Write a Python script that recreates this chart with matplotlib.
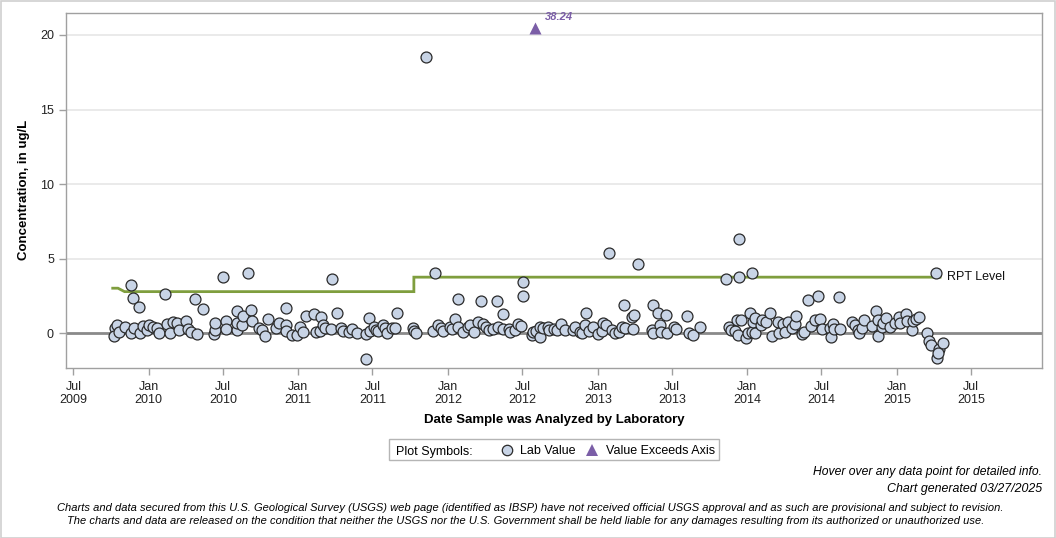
import matplotlib
matplotlib.use("Agg")
import matplotlib.pyplot as plt
from matplotlib.lines import Line2D
from matplotlib.patches import Rectangle
from datetime import datetime

# ---------------- data (decimal year of analysis, concentration ug/L) ----------------
sample_years = [
    2009.774, 2009.767, 2009.787, 2009.801, 2009.841, 2009.881, 2009.881, 2009.894, 2009.901, 2009.934,
    2009.941, 2009.961, 2009.988, 2010.001, 2010.028, 2010.055, 2010.068, 2010.108, 2010.122, 2010.142,
    2010.162, 2010.188, 2010.202, 2010.249, 2010.262, 2010.282, 2010.309, 2010.322, 2010.362, 2010.436,
    2010.442, 2010.442, 2010.496, 2010.516, 2010.516, 2010.589, 2010.589, 2010.589, 2010.623, 2010.630,
    2010.663, 2010.683, 2010.690, 2010.737, 2010.757, 2010.777, 2010.797, 2010.850, 2010.870,
    2010.917, 2010.917, 2010.917, 2010.957, 2010.991, 2011.011, 2011.031, 2011.051, 2011.104, 2011.118,
    2011.144, 2011.151, 2011.164, 2011.178, 2011.225, 2011.218, 2011.258, 2011.285, 2011.298, 2011.338,
    2011.358, 2011.392, 2011.452, 2011.452, 2011.472, 2011.478, 2011.505, 2011.519, 2011.532, 2011.565,
    2011.579, 2011.592, 2011.626, 2011.646, 2011.659, 2011.766, 2011.773, 2011.786, 2011.853, 2011.913,
    2011.900, 2011.933, 2011.953, 2011.966,
    2012.013, 2012.027, 2012.047, 2012.067, 2012.067, 2012.100, 2012.134, 2012.147, 2012.174, 2012.200,
    2012.220, 2012.234, 2012.254, 2012.274, 2012.301, 2012.327, 2012.334, 2012.368, 2012.368, 2012.408,
    2012.414, 2012.448, 2012.468, 2012.488, 2012.501, 2012.501, 2012.561, 2012.568, 2012.588, 2012.615,
    2012.615, 2012.635, 2012.668, 2012.675, 2012.708, 2012.728, 2012.755, 2012.782, 2012.835,
    2012.849, 2012.882, 2012.896, 2012.922, 2012.916, 2012.942, 2012.969, 2013.002, 2013.029, 2013.036,
    2013.056, 2013.076, 2013.096, 2013.116, 2013.143, 2013.163, 2013.176, 2013.183, 2013.230, 2013.243,
    2013.236, 2013.270, 2013.363, 2013.370, 2013.370, 2013.403, 2013.417, 2013.424, 2013.457, 2013.464,
    2013.510, 2013.524, 2013.597, 2013.611, 2013.637, 2013.684,
    2013.858, 2013.878, 2013.891, 2013.918, 2013.932, 2013.938, 2013.945, 2013.945, 2013.958, 2013.992,
    2014.005, 2014.019, 2014.032, 2014.032, 2014.039, 2014.052, 2014.052, 2014.092, 2014.099, 2014.126,
    2014.152, 2014.166, 2014.206, 2014.212, 2014.239, 2014.252, 2014.272, 2014.299, 2014.319, 2014.326,
    2014.366, 2014.380, 2014.406, 2014.426, 2014.453, 2014.473, 2014.486, 2014.500, 2014.553, 2014.560,
    2014.573, 2014.580, 2014.613, 2014.620,
    2014.700, 2014.720, 2014.740, 2014.747, 2014.767, 2014.780, 2014.833, 2014.860, 2014.874, 2014.874,
    2014.901, 2014.907, 2014.927, 2014.954, 2014.988, 2015.014, 2015.021, 2015.061, 2015.068, 2015.101,
    2015.108, 2015.128, 2015.148, 2015.202, 2015.215, 2015.228, 2015.282, 2015.309, 2015.269, 2015.275,
    2015.262,
]
sample_values = [
    0.36, -0.18, 0.56, 0.09, 0.42, 3.24, 0.02, 2.37, 0.36, 1.76,
    0.02, 0.49, 0.22, 0.56, 0.42, 0.36, 0.02, 2.63, 0.62, 0.02,
    0.76, 0.69, 0.22, 0.82, 0.29, 0.09, 2.30, -0.05, 1.63, -0.05,
    0.22, 0.69, 3.78, 0.82, 0.29, 0.22, 0.69, 1.49, 0.56, 1.16,
    4.04, 1.56, 0.82, 0.36, 0.22, -0.18, 0.96, 0.36, 0.69,
    1.70, 0.56, 0.15, -0.11, -0.11, 0.42, 0.09, 1.16, 1.29, 0.09,
    0.15, 1.09, 0.56, 0.36, 3.64, 0.29, 1.36, 0.36, 0.15, 0.09,
    0.29, 0.02, -0.05, -1.72, 1.03, 0.15, 0.42, 0.22, 0.15, 0.56,
    0.36, 0.02, 0.36, 0.36, 1.36, 0.36, 0.15, 0.02, 18.52, 4.04,
    0.15, 0.56, 0.36, 0.15,
    0.42, 0.29, 0.96, 2.30, 0.42, 0.09, 0.42, 0.56, 0.09, 0.76,
    2.16, 0.62, 0.42, 0.22, 0.29, 2.16, 0.42, 1.29, 0.29, 0.29,
    0.09, 0.22, 0.62, 0.49, 3.44, 2.50, -0.11, 0.09, 0.15, -0.25,
    0.42, 0.36, 0.42, 0.22, 0.29, 0.22, 0.62, 0.22, 0.22,
    0.42, 0.09, 0.02, 1.36, 0.56, 0.15, 0.42, -0.05, 0.15, 0.69,
    0.56, 5.38, 0.22, 0.02, 0.09, 0.42, 1.90, 0.36, 1.09, 1.23,
    0.29, 4.64, 0.22, 1.90, 0.02, 1.36, 0.56, 0.09, 1.23, 0.02,
    0.42, 0.29, 1.16, 0.02, -0.11, 0.42,
    3.64, 0.42, 0.22, 0.15, 0.89, -0.11, 6.32, 3.78, 0.89, -0.32,
    0.02, 1.36, 4.04, 0.09, 0.76, 1.03, 0.02, 0.56, 0.89, 0.76,
    1.36, -0.18, 0.76, 0.02, 0.62, 0.09, 0.76, 0.36, 0.62, 1.16,
    -0.05, 0.09, 2.23, 0.49, 0.89, 2.50, 0.96, 0.29, 0.36, -0.25,
    0.62, 0.29, 2.43, 0.29,
    0.76, 0.56, 0.22, 0.02, 0.36, 0.89, 0.49, 1.49, 0.89, -0.18,
    0.42, 0.69, 1.03, 0.42, 0.69, 1.09, 0.69, 1.29, 0.82, 0.22,
    0.82, 0.96, 1.09, 0.02, -0.52, -0.78, -1.05, -0.65, -1.65, -1.32,
    4.04,
]

# value above the axis maximum
exceed_years = [2012.581]
exceed_values = [38.24]
exceed_plot_value = 20.45  # drawn at the top of the axis

# reporting level line
rpt_years = [2009.759, 2009.794, 2009.838, 2011.773, 2011.773, 2015.289]
rpt_values = [3.02, 3.02, 2.79, 2.79, 3.76, 3.76]

x_ticks = ["2009-07-01", "2010-01-01", "2010-07-01", "2011-01-01", "2011-07-01",
           "2012-01-01", "2012-07-01", "2013-01-01", "2013-07-01", "2014-01-01",
           "2014-07-01", "2015-01-01", "2015-07-01"]
y_ticks = [0, 5, 10, 15, 20]


def dy(y):
    yr = int(y)
    a = datetime(yr, 1, 1)
    b = datetime(yr + 1, 1, 1)
    return a + (b - a) * (y - yr)


plt.rcParams['font.family'] = ['Liberation Sans', 'DejaVu Sans']

W, H = 1056, 538
fig = plt.figure(figsize=(W / 100, H / 100), dpi=100)
fig.patch.set_facecolor("white")
fig.add_artist(Rectangle((0.5 / W, 0.5 / H), 1 - 1.5 / W, 1 - 1.5 / H, transform=fig.transFigure,
                         fill=False, edgecolor="#d0d0d0", linewidth=1.2))

ax = fig.add_axes([65.7 / W, 1 - 368 / H, (1042 - 65.7) / W, (368 - 12.7) / H])

frame_col = "#a0a0a0"
for s in ax.spines.values():
    s.set_color(frame_col)
    s.set_linewidth(1)

ax.set_xlim(dy(2009.4445), dy(2015.971))
ax.set_ylim(-2.33, 21.49)

# grid lines
for v in y_ticks[1:]:
    ax.axhline(v, color="#e6e6e6", linewidth=1.2, zorder=0)
ax.axhline(0, color="#8a8a8a", linewidth=2, zorder=1)

# RPT line
ax.plot([dy(y) for y in rpt_years], rpt_values, color="#7f9e3e", linewidth=2, zorder=2,
        solid_joinstyle="miter")
ax.annotate("RPT Level", (dy(rpt_years[-1]), rpt_values[-1]), xytext=(5, 0), textcoords="offset points",
            fontsize=9, va="center", ha="left", color="#111111")

ax.scatter([dy(y) for y in sample_years], sample_values, s=62, facecolor="#c8d4e6",
           edgecolor="#2a2a2a", linewidth=0.9, zorder=3)

ax.scatter([dy(y) for y in exceed_years], [exceed_plot_value] * len(exceed_years), marker="^", s=75,
           color="#7b5ea7", zorder=3, linewidth=0)
for y, v in zip(exceed_years, exceed_values):
    ax.annotate(f"{v:.2f}", (dy(y), exceed_plot_value), xytext=(7, 8), textcoords="offset points",
                fontsize=8, fontweight="bold", fontstyle="italic", color="#7b5ea7", ha="left", va="center")

# ticks
tick_dates = [datetime.strptime(t, "%Y-%m-%d") for t in x_ticks]
ax.set_xticks(tick_dates)
ax.set_xticklabels([d.strftime("%b") + "\n" + d.strftime("%Y") for d in tick_dates], fontsize=9,
                   linespacing=1.15)
ax.set_yticks(y_ticks)
ax.set_yticklabels([str(v) for v in y_ticks], fontsize=9)
ax.tick_params(axis="both", direction="out", length=5, color=frame_col, labelcolor="#222222", width=1)
ax.tick_params(axis="x", pad=4)

ax.set_ylabel("Concentration, in ug/L", fontsize=9.5, fontweight="bold", labelpad=7)
ax.set_xlabel("Date Sample was Analyzed by Laboratory", fontsize=9.5, fontweight="bold", labelpad=6)

# legend box
lx0, ly0, lx1, ly1 = 389, 439, 719, 460
fig.add_artist(Rectangle((lx0 / W, 1 - ly1 / H), (lx1 - lx0) / W, (ly1 - ly0) / H,
                         transform=fig.transFigure, fill=False, edgecolor="#b5b5b5", linewidth=1))
ly = 1 - 450 / H
fig.text(396 / W, ly, "Plot Symbols:", fontsize=9, va="center_baseline", ha="left")
fig.add_artist(Line2D([507 / W], [ly], transform=fig.transFigure, marker="o", markersize=7.5,
                      markerfacecolor="#c8d4e6", markeredgecolor="#2a2a2a", markeredgewidth=0.9,
                      linestyle="none"))
fig.text(520 / W, ly, "Lab Value", fontsize=9, va="center_baseline", ha="left")
fig.add_artist(Line2D([592 / W], [ly], transform=fig.transFigure, marker="^", markersize=8,
                      markerfacecolor="#7b5ea7", markeredgewidth=0, linestyle="none"))
fig.text(606 / W, ly, "Value Exceeds Axis", fontsize=9, va="center_baseline", ha="left")

# footer
narrow = ['Liberation Sans Narrow', 'Liberation Sans', 'DejaVu Sans']
fig.text(1042 / W, 1 - 472 / H, "Hover over any data point for detailed info.", fontsize=8.75,
         fontstyle="italic", ha="right", va="center", family=narrow)
fig.text(1042 / W, 1 - 489 / H, "Chart generated 03/27/2025", fontsize=8.9,
         fontstyle="italic", ha="right", va="center", family=narrow)
fig.text(530 / W, 1 - 508 / H,
         "Charts and data secured from this U.S. Geological Survey (USGS) web page (identified as IBSP) have not received official USGS approval and as such are provisional and subject to revision.",
         fontsize=8.0, fontstyle="italic", ha="center", va="center", family=narrow)
fig.text(526 / W, 1 - 521 / H,
         "The charts and data are released on the condition that neither the USGS nor the U.S. Government shall be held liable for any damages resulting from its authorized or unauthorized use.",
         fontsize=8.0, fontstyle="italic", ha="center", va="center", family=narrow)

fig.savefig("out.png", dpi=100)
